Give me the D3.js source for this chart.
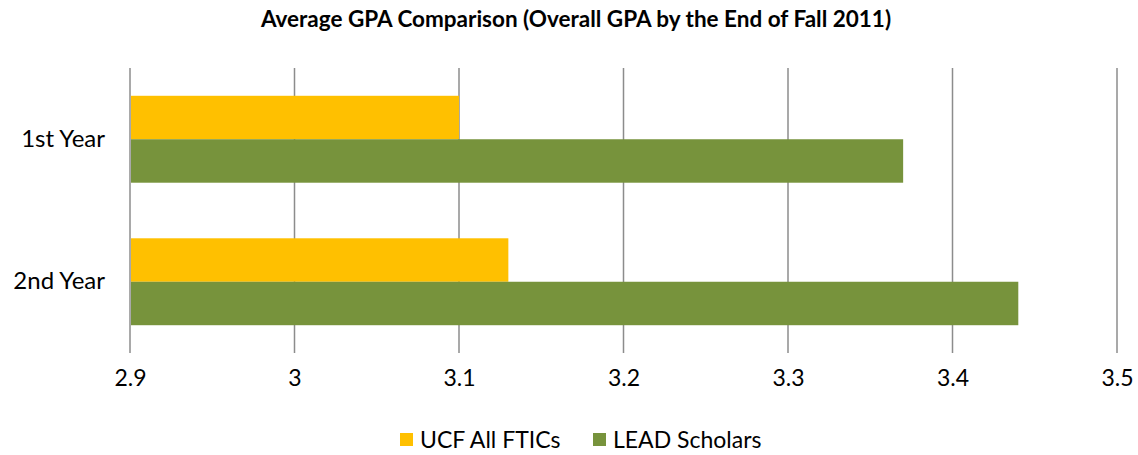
<!DOCTYPE html>
<html>
<head>
<meta charset="utf-8">
<script src="https://cdn.jsdelivr.net/npm/d3@7"></script>
<style>
body { margin: 0; background: #fff; }
svg { font-family: Lato, "Open Sans", sans-serif; }
</style>
</head>
<body>
<div id="chart"></div>
<script>
var categories = ["1st Year", "2nd Year"];
var seriesNames = ["UCF All FTICs", "LEAD Scholars"];
var ucfValues = [3.10, 3.13];
var leadValues = [3.37, 3.44];
var tickValues = [2.9, 3.0, 3.1, 3.2, 3.3, 3.4, 3.5];
var colors = ["#FFC000", "#77933C"];

var width = 1138, height = 455;
var margin = {top: 68, right: 20, bottom: 102, left: 130};

var svg = d3.select("#chart").append("svg")
	.attr("width", width)
	.attr("height", height);

var x = d3.scaleLinear()
	.domain([2.9, 3.5])
	.range([margin.left, 1117]);

var y = d3.scaleBand()
	.domain(categories)
	.range([margin.top, height - margin.bottom])
	.paddingInner(0.39)
	.paddingOuter(0.195);

var ySub = d3.scaleBand()
	.domain(seriesNames)
	.range([0, y.bandwidth()]);

//gridlines
svg.append("g")
	.selectAll("line")
	.data(tickValues).enter()
		.append("line")
		.attr("x1", function(d) { return x(d); })
		.attr("x2", function(d) { return x(d); })
		.attr("y1", margin.top)
		.attr("y2", height - margin.bottom)
		.attr("stroke", "#8c8c8c")
		.attr("stroke-width", 1.5);

var rows = categories.map(function(c, i) {
	return [ucfValues[i], leadValues[i]].map(function(v, j) {
		return {cat: c, series: seriesNames[j], value: v, color: colors[j]};
	});
});

svg.append("g")
	.selectAll("g")
	.data(rows).enter()
		.append("g")
		.attr("transform", function(d) { return "translate(0," + y(d[0].cat) + ")"; })
		.selectAll("rect")
		.data(function(d) { return d; }).enter()
			.append("rect")
			.attr("x", x(2.9) + 1)
			.attr("y", function(d) { return ySub(d.series); })
			.attr("width", function(d) { return x(d.value) - x(2.9) - 1; })
			.attr("height", ySub.bandwidth())
			.attr("fill", function(d) { return d.color; });

//x axis labels
var xAxis = d3.axisBottom(x)
	.tickValues(tickValues)
	.tickSize(0)
	.tickPadding(17)
	.tickFormat(d3.format("~g"));

svg.append("g")
	.attr("transform", "translate(0," + (height - margin.bottom) + ")")
	.call(xAxis)
	.call(function(g) { g.select(".domain").remove(); })
	.selectAll("text")
		.attr("font-size", 23)
		.attr("fill", "#000")
		.attr("font-family", "Lato, 'Open Sans', sans-serif");

//category labels
var yAxis = d3.axisLeft(y).tickSize(0).tickPadding(25);
svg.append("g")
	.attr("transform", "translate(" + margin.left + ",0)")
	.call(yAxis)
	.call(function(g) { g.select(".domain").remove(); })
	.selectAll("text")
		.attr("font-size", 24)
		.attr("fill", "#000")
		.attr("font-family", "Lato, 'Open Sans', sans-serif");

//title
svg.append("text")
	.attr("x", 576)
	.attr("y", 27)
	.attr("text-anchor", "middle")
	.attr("font-size", 22.5)
	.attr("font-weight", "bold")
	.text("Average GPA Comparison (Overall GPA by the End of Fall 2011)");

//legend
var legendX = [400, 593];
var legend = svg.append("g")
	.selectAll("g")
	.data(seriesNames).enter()
		.append("g")
		.attr("transform", function(d, i) { return "translate(" + legendX[i] + ",433)"; });

legend.append("rect")
	.attr("width", 13)
	.attr("height", 13)
	.attr("fill", function(d, i) { return colors[i]; });

legend.append("text")
	.attr("x", 20)
	.attr("y", 7)
	.attr("dy", "0.35em")
	.attr("font-size", 23)
	.text(function(d) { return d; });
</script>
</body>
</html>
